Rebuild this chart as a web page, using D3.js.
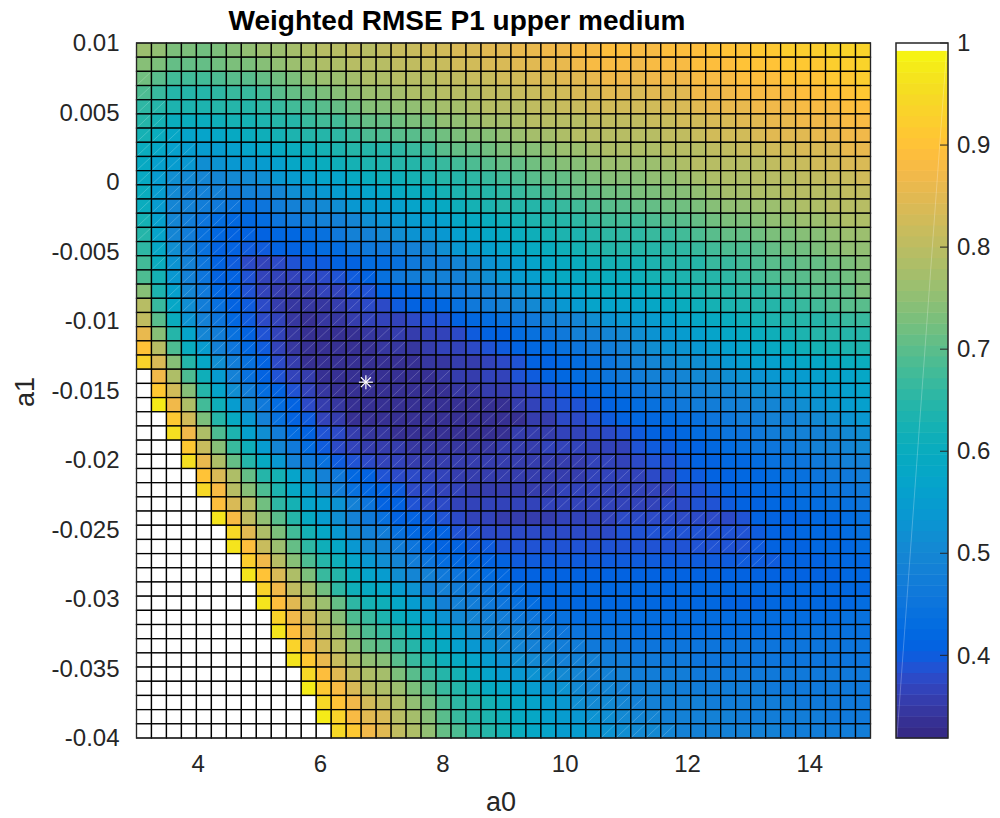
<!DOCTYPE html>
<html>
<head>
<meta charset="utf-8">
<title>Weighted RMSE P1 upper medium</title>
<script src="https://cdn.jsdelivr.net/npm/d3@7"></script>
<style>
  html, body { margin: 0; background: #fff; }
  text { font-family: "Liberation Sans", Arial, sans-serif; fill: #262626; }
</style>
</head>
<body>
<svg id="chart" width="1000" height="818"></svg>
<script>
const a0Ticks = [4, 6, 8, 10, 12, 14]
const a1Ticks = [0.01, 0.005, 0, -0.005, -0.01, -0.015, -0.02, -0.025, -0.03, -0.035, -0.04]
const a1TickLabels = ['0.01', '0.005', '0', '-0.005', '-0.01', '-0.015', '-0.02', '-0.025', '-0.03', '-0.035', '-0.04']
const colorbarTicks = [1, 0.9, 0.8, 0.7, 0.6, 0.5, 0.4]
const best = { a0: 6.75, a1: -0.0144 }
const a0Range = [3, 15]
const a1Range = [-0.04, 0.01]
const barRange = [0.319, 1]
const colorRange = [0.319, 1.0035]

// weighted rmse x100, top row first. 100 = off the scale (white)
const rmse = [
[76,75,73,73,72,73,74,75,76,76,77,78,79,80,81,80,81,82,82,83,83,84,84,85,85,86,86,87,87,88,88,89,89,88,88,89,89,89,90,90,90,91,91,92,92,92,93,93,93],
[74,73,71,71,71,72,73,73,74,75,76,77,78,78,79,80,80,81,81,82,82,83,83,84,84,85,85,86,86,87,88,88,88,87,88,88,88,89,89,89,90,90,90,91,91,91,92,92,93],
[72,70,68,68,68,69,70,70,71,72,73,75,76,76,77,78,78,79,80,80,81,81,82,82,83,83,84,84,85,85,86,87,87,86,87,87,87,88,88,88,89,89,89,90,90,90,91,91,92],
[69,67,65,65,65,66,67,67,68,70,71,72,73,74,75,76,76,77,78,78,79,79,80,81,81,82,82,83,83,84,84,85,85,84,85,85,85,87,87,87,88,88,88,88,89,89,90,90,91],
[66,64,63,63,63,64,64,65,66,67,68,69,70,71,72,74,74,75,75,76,77,77,78,79,79,80,81,81,82,82,83,83,83,83,83,84,84,85,86,86,86,87,87,87,88,88,88,89,89],
[64,62,60,60,60,61,62,62,63,64,65,67,68,68,70,71,71,72,73,73,75,75,76,77,77,78,79,79,80,80,81,81,81,81,82,82,83,83,84,84,85,85,86,86,87,87,87,88,88],
[62,60,58,57,57,58,59,60,61,62,63,64,65,66,67,69,69,70,70,71,72,73,74,74,75,76,77,77,78,79,79,80,80,80,80,81,81,82,83,83,83,84,85,85,85,86,86,87,87],
[60,58,56,55,55,55,56,57,58,59,60,61,62,63,64,65,65,66,67,68,70,71,71,72,73,74,74,75,76,76,77,78,78,78,78,79,79,80,81,81,82,82,83,83,84,84,84,86,86],
[59,56,55,54,52,53,54,54,55,56,58,59,60,61,62,63,63,64,65,66,67,68,69,70,71,71,72,73,74,74,75,76,76,76,76,77,78,79,79,80,80,80,81,82,82,83,83,84,84],
[59,55,52,51,50,50,51,51,52,54,55,56,57,57,59,60,61,61,62,63,64,65,66,67,68,69,70,71,71,72,73,74,74,74,75,75,76,77,78,78,78,79,80,80,81,81,82,82,83],
[60,55,51,49,48,48,47,48,49,50,52,53,54,55,56,57,58,59,60,60,62,63,64,65,66,67,68,69,70,71,71,72,72,73,73,74,74,75,76,77,77,78,78,79,79,80,80,81,81],
[60,55,50,48,47,46,45,44,45,47,49,50,51,52,54,55,55,56,57,58,59,61,62,63,64,65,65,66,67,68,69,70,70,71,71,72,72,73,74,75,75,76,76,77,78,78,79,79,80],
[62,56,50,47,45,43,42,42,43,45,46,47,48,49,50,52,53,54,55,55,56,58,59,60,61,62,63,64,65,66,67,68,68,68,69,70,70,71,72,73,73,74,75,75,76,76,77,78,78],
[64,57,50,47,44,42,41,41,41,42,42,43,44,46,48,49,51,52,53,53,54,56,57,58,59,60,61,62,63,63,64,66,66,66,67,67,68,69,70,71,71,72,73,73,74,74,75,76,76],
[66,58,52,47,44,41,41,40,40,41,41,42,43,43,45,46,46,47,49,50,52,54,55,56,57,58,59,60,61,62,63,64,64,65,65,66,66,67,68,69,69,70,71,72,72,73,74,75,75],
[68,60,53,48,45,41,40,38,37,38,39,40,40,41,41,43,43,44,46,47,47,50,51,53,54,55,57,58,59,60,61,62,62,62,63,64,65,65,67,67,68,69,70,70,71,71,72,73,74],
[69,62,54,49,45,41,41,39,37,37,37,38,38,39,40,41,44,46,47,48,48,49,51,52,54,55,56,58,59,59,60,60,60,61,62,63,63,65,65,66,67,68,69,70,70,71,71,72,73],
[74,63,56,50,46,42,41,39,37,36,36,36,37,37,39,39,41,42,42,44,46,46,47,49,50,52,53,55,56,57,58,59,59,59,60,61,62,63,64,65,66,66,67,68,69,70,70,71,73],
[79,67,58,52,47,44,41,40,38,36,35,35,35,36,37,38,38,40,41,41,42,44,46,47,48,50,51,52,54,55,57,57,57,57,58,59,60,61,62,63,63,64,65,66,67,68,69,70,70],
[81,70,60,53,48,45,42,40,38,37,35,34,35,35,36,37,37,37,38,39,39,41,42,43,44,45,46,48,49,50,52,53,54,54,55,56,57,58,59,60,61,62,63,64,65,65,66,67,67],
[86,74,64,57,50,47,44,41,39,37,35,34,33,34,34,35,35,36,36,37,37,38,40,41,41,43,44,45,46,48,49,50,51,52,53,54,55,56,57,58,59,60,61,62,63,64,64,65,65],
[90,80,69,60,55,49,45,42,40,37,35,33,33,33,33,34,35,35,35,36,37,37,38,39,40,41,42,43,44,45,46,47,49,51,52,53,53,54,55,56,57,58,59,60,61,62,62,63,63],
[93,84,74,65,58,52,47,44,41,38,36,34,33,33,33,33,33,33,34,35,35,36,36,37,38,39,41,41,42,43,44,45,47,49,50,51,52,52,53,54,55,56,56,57,58,58,59,60,60],
[100,87,78,69,61,55,48,44,41,39,37,36,34,33,33,33,33,33,34,34,35,36,36,37,37,39,40,41,42,43,44,45,46,47,48,49,50,51,51,52,53,53,54,55,55,56,57,57,58],
[100,91,83,74,65,57,52,47,43,41,39,37,35,34,33,33,33,33,33,33,34,35,35,36,36,37,38,39,40,41,42,43,44,45,46,47,48,49,50,50,51,52,52,53,54,54,55,56,57],
[100,98,87,78,68,61,55,51,46,43,41,38,36,35,33,33,33,33,33,33,33,33,33,34,34,36,37,38,39,39,40,41,42,43,44,45,46,47,47,48,49,50,50,51,52,53,54,55,56],
[100,100,91,83,73,65,59,54,49,44,41,40,37,36,34,33,34,33,33,33,33,34,34,34,34,34,36,36,38,38,39,40,41,42,42,43,43,44,45,46,47,47,48,49,50,51,52,53,54],
[100,100,96,87,78,69,63,56,52,47,43,41,39,38,36,35,35,34,34,34,34,34,34,34,34,36,36,36,37,37,38,38,39,40,41,41,42,43,44,45,45,46,47,48,49,49,50,51,52],
[100,100,100,91,82,74,67,61,55,50,46,43,40,38,37,36,36,36,35,35,35,35,35,35,36,36,36,37,37,37,37,37,37,39,40,40,41,41,42,43,44,45,45,46,47,48,49,50,51],
[100,100,100,96,86,78,71,65,59,54,49,46,44,40,39,38,37,37,36,36,36,36,36,36,36,36,36,36,36,36,37,37,37,38,39,39,40,41,41,42,42,43,44,45,45,46,47,48,49],
[100,100,100,100,90,84,78,71,65,62,57,53,49,46,42,41,39,38,38,37,37,36,36,36,36,36,36,36,36,36,37,37,37,37,38,38,40,40,41,41,42,42,43,44,44,45,46,46,47],
[100,100,100,100,95,88,80,74,69,63,58,55,51,47,44,42,41,40,38,38,37,37,36,36,36,36,36,36,37,37,37,37,37,37,37,37,39,39,40,41,41,42,42,43,44,44,45,45,46],
[100,100,100,100,100,89,84,79,72,66,62,57,56,53,48,45,41,41,39,38,38,37,37,37,37,37,37,37,37,37,37,37,37,37,37,38,38,39,39,40,41,41,42,42,43,43,44,44,45],
[100,100,100,100,100,97,88,81,75,70,65,59,55,52,48,46,44,41,41,40,39,38,37,37,36,36,36,36,37,37,37,37,38,38,38,38,38,38,38,38,39,41,41,41,41,42,42,43,44],
[100,100,100,100,100,100,94,85,78,73,68,62,58,54,51,49,47,44,42,41,41,39,39,38,38,38,38,38,38,38,38,38,39,39,39,39,39,39,39,39,39,40,41,41,42,42,42,43,44],
[100,100,100,100,100,100,97,89,82,76,71,66,61,58,54,51,50,47,45,42,41,41,40,40,39,39,39,39,39,39,39,39,39,39,39,39,39,39,39,39,39,40,41,41,41,42,42,42,43],
[100,100,100,100,100,100,100,92,87,80,74,69,64,61,57,54,52,50,47,45,43,42,42,41,41,40,40,40,40,40,40,40,40,40,40,40,40,40,40,40,40,40,40,41,41,41,42,42,42],
[100,100,100,100,100,100,100,97,90,84,78,73,67,64,60,57,55,52,50,48,46,45,44,43,42,41,41,41,41,41,41,41,41,41,41,41,41,41,41,41,41,41,41,41,41,41,41,42,42],
[100,100,100,100,100,100,100,100,93,87,81,77,72,66,61,59,58,55,53,49,48,47,46,45,44,43,42,42,42,42,42,42,42,42,42,42,42,42,42,42,42,42,42,42,42,42,42,42,42],
[100,100,100,100,100,100,100,100,97,89,85,80,76,71,66,62,61,58,55,53,49,48,47,46,45,44,43,42,42,42,42,42,42,42,42,42,42,42,42,41,41,41,42,42,42,42,42,42,43],
[100,100,100,100,100,100,100,100,100,93,87,83,79,74,69,67,63,60,58,55,53,51,50,48,47,46,45,44,44,43,43,43,43,43,43,43,43,43,43,43,43,43,43,43,43,43,43,44,44],
[100,100,100,100,100,100,100,100,100,97,89,85,81,77,72,69,67,64,61,59,56,54,52,50,49,48,47,46,45,45,44,44,44,43,43,43,43,43,43,43,43,43,43,43,44,44,44,44,44],
[100,100,100,100,100,100,100,100,100,100,93,87,83,79,75,71,70,67,64,61,59,56,54,53,51,50,49,48,47,47,46,46,45,45,45,45,45,45,45,45,45,45,45,45,45,45,45,45,45],
[100,100,100,100,100,100,100,100,100,100,97,91,86,82,78,75,74,70,67,64,61,59,57,55,53,52,51,50,49,48,48,47,47,46,46,46,46,45,45,45,45,45,45,45,45,45,45,45,45],
[100,100,100,100,100,100,100,100,100,100,100,94,89,85,81,78,77,73,70,67,64,62,59,57,55,54,53,52,51,50,49,49,48,47,47,47,47,46,46,46,46,46,46,46,46,46,46,46,46],
[100,100,100,100,100,100,100,100,100,100,100,98,91,88,84,80,78,76,73,70,67,64,62,59,58,56,55,53,53,51,50,50,49,49,48,48,47,47,47,47,47,47,46,46,46,46,46,46,46],
[100,100,100,100,100,100,100,100,100,100,100,100,94,90,87,83,81,78,75,72,69,66,64,62,60,58,57,55,54,52,51,51,50,49,49,48,48,48,47,47,47,47,47,47,46,46,46,46,46],
[100,100,100,100,100,100,100,100,100,100,100,100,98,93,88,85,84,79,77,74,70,67,65,63,61,59,58,56,55,54,53,52,51,50,50,49,49,48,48,48,47,47,47,47,47,47,46,46,46],
[100,100,100,100,100,100,100,100,100,100,100,100,100,95,91,87,85,81,78,75,71,69,66,64,62,60,58,57,55,55,54,53,52,51,51,50,49,49,49,48,48,48,48,47,47,47,47,47,47]
]

// cells that show a faint diagonal seam: [row, first column, last column]
const seamRuns = [
[2,0,0],[3,0,0],[4,0,1],[5,0,1],[6,0,2],[7,0,3],[8,0,3],[9,0,4],[10,0,5],[11,0,6],[12,0,6],[13,0,7],
[14,1,8],[15,1,9],[16,2,15],[17,2,15],[18,2,15],[19,3,15],[20,4,17],[21,4,17],[22,5,18],[23,6,20],
[24,6,22],[25,8,25],[26,9,25],[27,10,27],[28,11,29],[29,12,31],[30,13,33],[31,13,21],[31,26,35],
[32,14,20],[32,27,35],[33,16,20],[33,31,38],[34,16,22],[34,34,40],[35,17,23],[35,37,41],[36,18,23],
[36,40,42],[37,19,24],[38,20,25],[39,21,26],[40,22,27],[41,23,28],[42,24,29],[43,25,30],[44,26,31],
[45,28,32],[46,29,33],[47,30,34],[48,31,35]
]

const parula = [
[.2081,.1663,.5292],[.2116,.1898,.5777],[.2123,.2138,.6270],[.2081,.2386,.6771],[.1959,.2645,.7279],
[.1707,.2919,.7792],[.1253,.3242,.8303],[.0591,.3598,.8683],[.0117,.3875,.8820],[.0060,.4086,.8828],
[.0165,.4266,.8786],[.0329,.4430,.8720],[.0498,.4586,.8641],[.0629,.4737,.8554],[.0723,.4887,.8467],
[.0779,.5040,.8384],[.0793,.5200,.8312],[.0749,.5375,.8263],[.0641,.5570,.8240],[.0488,.5772,.8228],
[.0343,.5966,.8199],[.0265,.6137,.8135],[.0239,.6287,.8038],[.0231,.6418,.7913],[.0228,.6535,.7768],
[.0267,.6642,.7607],[.0384,.6743,.7436],[.0590,.6838,.7254],[.0843,.6928,.7062],[.1133,.7015,.6859],
[.1453,.7098,.6646],[.1801,.7177,.6424],[.2178,.7250,.6193],[.2586,.7317,.5954],[.3022,.7376,.5712],
[.3482,.7424,.5473],[.3953,.7459,.5244],[.4420,.7481,.5033],[.4871,.7491,.4840],[.5300,.7491,.4661],
[.5709,.7485,.4494],[.6099,.7473,.4337],[.6473,.7456,.4188],[.6834,.7435,.4044],[.7184,.7411,.3905],
[.7525,.7384,.3768],[.7858,.7356,.3633],[.8185,.7327,.3498],[.8507,.7299,.3360],[.8824,.7274,.3217],
[.9139,.7258,.3063],[.9450,.7261,.2886],[.9739,.7314,.2666],[.9938,.7455,.2403],[.9990,.7653,.2164],
[.9955,.7861,.1967],[.9880,.8066,.1794],[.9789,.8271,.1633],[.9697,.8481,.1475],[.9626,.8705,.1309],
[.9589,.8949,.1132],[.9598,.9218,.0948],[.9661,.9514,.0755]
]

const plot = { left: 136.5, right: 870.5, top: 43, bottom: 738 }
const bar = { left: 896, right: 948 }
const ink = '#262626'

const colors = parula.map(c => d3.rgb(c[0] * 255, c[1] * 255, c[2] * 255).formatHex()).concat('#ffffff')
const color = d3.scaleQuantize().domain(colorRange).range(colors)

const x = d3.scaleLinear().domain(a0Range).range([plot.left, plot.right])
const y = d3.scaleLinear().domain(a1Range).range([plot.bottom, plot.top])
const yBar = d3.scaleLinear().domain(barRange).range([plot.bottom, plot.top])

const nRows = rmse.length
const nCols = rmse[0].length
const colEdge = d3.scaleLinear().domain([0, nCols]).range(a0Range)
const rowEdge = d3.scaleLinear().domain([0, nRows]).range([a1Range[1], a1Range[0]])

const svg = d3.select('#chart')

const cells = rmse.flatMap((row, r) => row.map((v, c) => ({ r, c, v: v / 100 })))

svg.append('g')
  .selectAll('rect')
  .data(cells)
  .join('rect')
  .attr('x', d => x(colEdge(d.c)))
  .attr('y', d => y(rowEdge(d.r)))
  .attr('width', d => x(colEdge(d.c + 1)) - x(colEdge(d.c)))
  .attr('height', d => y(rowEdge(d.r + 1)) - y(rowEdge(d.r)))
  .attr('fill', d => color(d.v))
  .attr('stroke', '#000')
  .attr('stroke-width', 1.3)

const seams = seamRuns.flatMap(([r, from, to]) => d3.range(from, to + 1).map(c => ({ r, c })))

svg.append('g')
  .selectAll('line')
  .data(seams)
  .join('line')
  .attr('x1', d => x(colEdge(d.c)) + 1)
  .attr('y1', d => y(rowEdge(d.r + 1)) - 1)
  .attr('x2', d => x(colEdge(d.c + 1)) - 1)
  .attr('y2', d => y(rowEdge(d.r)) + 1)
  .attr('stroke', '#fff')
  .attr('stroke-opacity', 0.2)
  .attr('stroke-width', 1)

// best fit marker, eight arms
const starArms = [0, 45, 90, 135]
const star = svg.append('g')
  .attr('transform', `translate(${x(best.a0)},${y(best.a1)})`)
star.selectAll('line')
  .data(starArms)
  .join('line')
  .attr('x1', d => -7 * Math.cos(d * Math.PI / 180))
  .attr('y1', d => -7 * Math.sin(d * Math.PI / 180))
  .attr('x2', d => 7 * Math.cos(d * Math.PI / 180))
  .attr('y2', d => 7 * Math.sin(d * Math.PI / 180))
  .attr('stroke', '#fff')
  .attr('stroke-width', 1.2)

// axes
const xAxis = d3.axisBottom(x).tickValues(a0Ticks).tickSize(0).tickPadding(17)
const yAxis = d3.axisLeft(y).tickValues(a1Ticks).tickSize(0).tickPadding(17)
  .tickFormat((d, i) => a1TickLabels[i])

const styleAxis = g => {
  g.select('.domain').remove()
  g.selectAll('text').style('font-size', '24px').attr('fill', ink)
}

svg.append('g')
  .attr('transform', `translate(0,${plot.bottom})`)
  .call(xAxis)
  .call(styleAxis)

svg.append('g')
  .attr('transform', `translate(${plot.left},0)`)
  .call(yAxis)
  .call(styleAxis)

svg.append('rect')
  .attr('x', plot.left)
  .attr('y', plot.top)
  .attr('width', plot.right - plot.left)
  .attr('height', plot.bottom - plot.top)
  .attr('fill', 'none')
  .attr('stroke', ink)

svg.append('text')
  .attr('x', 457)
  .attr('y', 30)
  .attr('text-anchor', 'middle')
  .style('font-size', '28px')
  .style('font-weight', 'bold')
  .style('fill', '#000')
  .text('Weighted RMSE P1 upper medium')

svg.append('text')
  .attr('x', 501)
  .attr('y', 811)
  .attr('text-anchor', 'middle')
  .style('font-size', '27px')
  .text('a0')

svg.append('text')
  .attr('transform', 'translate(34,392) rotate(-90)')
  .attr('text-anchor', 'middle')
  .style('font-size', '27px')
  .text('a1')

// colorbar, the white band on top runs off the end of the bar
const step = (colorRange[1] - colorRange[0]) / colors.length

svg.append('g')
  .selectAll('rect')
  .data(colors)
  .join('rect')
  .attr('x', bar.left)
  .attr('width', bar.right - bar.left)
  .attr('y', (d, i) => yBar(Math.min(barRange[0] + (i + 1) * step, barRange[1])))
  .attr('height', (d, i) => yBar(barRange[0] + i * step) - yBar(Math.min(barRange[0] + (i + 1) * step, barRange[1])) + 0.5)
  .attr('fill', d => d)

svg.append('line')
  .attr('x1', bar.left + 1)
  .attr('y1', plot.bottom - 1)
  .attr('x2', bar.right - 1)
  .attr('y2', plot.top + 1)
  .attr('stroke', '#fff')
  .attr('stroke-opacity', 0.25)

const barAxis = d3.axisRight(yBar).tickValues(colorbarTicks).tickSize(0).tickPadding(9)
  .tickFormat(d => d)

svg.append('g')
  .attr('transform', `translate(${bar.right},0)`)
  .call(barAxis)
  .call(styleAxis)

svg.append('g')
  .selectAll('line')
  .data(colorbarTicks)
  .join('line')
  .attr('x1', bar.right - 8)
  .attr('x2', bar.right)
  .attr('y1', d => yBar(d))
  .attr('y2', d => yBar(d))
  .attr('stroke', ink)

svg.append('rect')
  .attr('x', bar.left)
  .attr('y', plot.top)
  .attr('width', bar.right - bar.left)
  .attr('height', plot.bottom - plot.top)
  .attr('fill', 'none')
  .attr('stroke', ink)
  .attr('stroke-width', 1.5)
</script>
</body>
</html>
